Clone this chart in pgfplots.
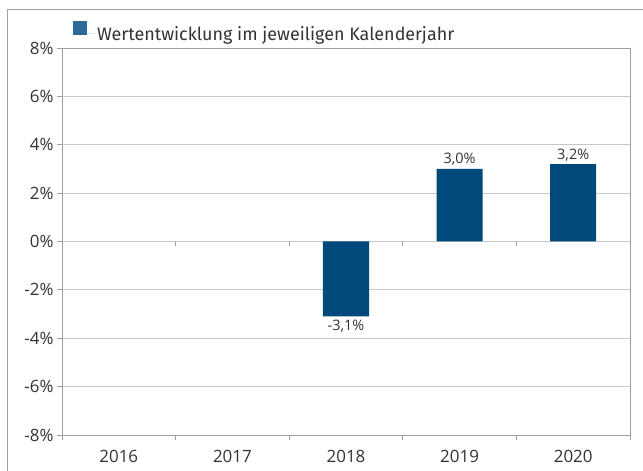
\documentclass[border=0pt]{standalone}
\usepackage{pgfplots}
\pgfplotsset{compat=1.18}
\usepackage{fontspec}
\setmainfont{Open Sans}
\newfontfamily\legfont{Fira Sans}
\definecolor{barblue}{HTML}{00497A}
\definecolor{legblue}{HTML}{2D6A9A}
\definecolor{gridgray}{HTML}{C8C8C8}
\definecolor{axisgray}{HTML}{A0A0A0}
\definecolor{txt}{HTML}{333333}
\begin{document}
\begin{tikzpicture}
\useasboundingbox (0bp,0bp) rectangle (643bp,471bp);
\draw[axisgray, line width=0.9bp] (7bp,-5bp) -- (7bp,462bp) -- (650bp,462bp);
\begin{axis}[
  at={(62bp,36bp)}, anchor=south west,
  scale only axis, width=568bp, height=387bp,
  xmin=0.5, xmax=5.5, ymin=-8, ymax=8,
  clip=false,
  axis line style={axisgray, line width=0.9bp},
  ymajorgrids, grid style={gridgray, line width=0.9bp},
  ytick={-8,-6,...,8},
  yticklabels={-8\%,-6\%,-4\%,-2\%,0\%,2\%,4\%,6\%,8\%},
  xtick={1,2,3,4,5},
  xticklabels={2016,2017,2018,2019,2020},
  xtick style={draw=none},
  ytick style={axisgray, line width=0.9bp},
  ytick pos=left, xtick pos=bottom,
  tick align=outside, major tick length=5bp,
  extra x ticks={0.5,1.5,2.5,3.5,4.5,5.5},
  extra x tick labels={},
  extra x tick style={xtick style={draw=axisgray, line width=0.9bp}, grid=none},
  tick label style={font=\fontsize{17}{20}\selectfont, text=txt},
  xticklabel style={yshift=-7bp},
  /pgf/number format/assume math mode=true,
  legend style={at={(axis description cs:0.0194,1.043)}, anchor=west,
    draw=none, fill=none, inner sep=0pt, outer sep=0pt,
    font=\legfont\fontsize{18}{21}\selectfont, text=txt,
    nodes={inner sep=0pt}},
  legend image code/.code={\fill[legblue] (0bp,-1bp) rectangle (14bp,13bp); \path (0bp,0bp) -- (24bp,0bp);},
]
\addplot[ybar, bar width=0.405, fill=barblue, draw=none,
  point meta=y,
  nodes near coords={\pgfmathprintnumber[use comma,fixed,fixed zerofill,precision=1]{\pgfplotspointmeta}\%},
  nodes near coords style={font=\fontsize{14.5}{16}\selectfont, text=txt, inner sep=3bp}]
  coordinates {(3,-3.1) (4,3.0) (5,3.2)};
\addlegendentry{Wertentwicklung im jeweiligen Kalenderjahr}
\pgfplotsinvokeforeach{1.5,2.5,3.5,4.5}{\draw[axisgray, line width=0.9bp] (axis cs:#1,0) -- ([yshift=-5bp]axis cs:#1,0);}
\end{axis}
\end{tikzpicture}
\end{document}
